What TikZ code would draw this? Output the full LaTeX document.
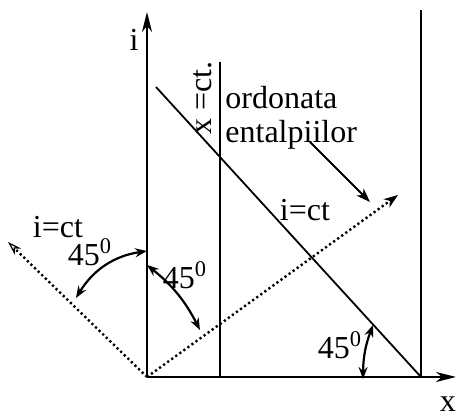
\documentclass[tikz,border=0pt]{standalone}
\usepackage{fontspec}
\setmainfont{Liberation Serif}
\usetikzlibrary{arrows.meta}

\begin{document}
\begin{tikzpicture}[x=0.5pt,y=0.5pt,
  axis/.style={line width=1.2pt},
  isoline/.style={line width=0.9pt},
  dotline/.style={line width=1.2pt, dash pattern=on 1.1pt off 1.4pt},
  angarrow/.style={line width=1.1pt, {Stealth[length=6pt,width=4.5pt,inset=2pt]}-{Stealth[length=6pt,width=4.5pt,inset=2pt]}},
  lbl/.style={font=\fontsize{16}{19}\selectfont, inner sep=0pt}]
  \useasboundingbox (0,0) rectangle (457,417);
  \coordinate (O) at (147,40);
  \coordinate (itop) at (147,405);
  \coordinate (xend) at (456,40);
  \coordinate (xctTop) at (220,355);
  \coordinate (xctBot) at (220,40);
  \coordinate (rTop) at (421,407);
  \coordinate (rBot) at (421,40);
  \coordinate (iTop) at (156,330);
  \coordinate (dR) at (398,222);
  \coordinate (dL) at (8,175);
  \draw[axis, -{Stealth[length=10pt,width=5pt,inset=3pt]}] (O) -- (itop);
  \draw[axis, -{Stealth[length=10pt,width=5pt,inset=3pt]}] (O) -- (xend);
  \draw[axis] (xctBot) -- (xctTop);
  \draw[axis] (rBot) -- (rTop);
  \draw[isoline] (iTop) -- (rBot);
  \draw[dotline, -{Stealth[length=7pt,width=5pt,inset=2pt]}] (O) -- (dR);
  \draw[dotline, -{Stealth[open,length=7pt,width=4.5pt,line width=0.6pt]}] (O) -- (dL);
  \coordinate (a1) at (147,166);
  \coordinate (b1) at (76,119);
  \coordinate (a2) at (147,152);
  \coordinate (b2) at (200,87);
  \coordinate (a3) at (363,38);
  \coordinate (b3) at (373,92);
  \draw[angarrow] (a1) to[bend right=25] (b1);
  \draw[angarrow] (a2) to[bend left=12] (b2);
  \draw[angarrow] (a3) to[bend left=10] (b3);
  \node[lbl] (iLbl) at (134,377) {i};
  \node[lbl] (xLbl) at (448,13) {x};
  \node[lbl] (ictL) at (58,190) {i=ct};
  \node[lbl] (ictR) at (305,207) {i=ct};
  \node[lbl] (angL) at (90,165) {45\textsuperscript{0}};
  \node[lbl] (angM) at (185,142) {45\textsuperscript{0}};
  \node[lbl] (angR) at (340,72) {45\textsuperscript{0}};
  \node[lbl, rotate=90] (xct) at (203,319) {x =ct.};
  \node[lbl, anchor=west] (ord) at (225,319) {ordonata};
  \node[lbl, anchor=west] (ent) at (225,282) {entalpiilor};
  \coordinate (pA) at (310,275);
  \coordinate (pB) at (370,215);
  \draw[isoline, -{Stealth[length=7pt,width=5pt,inset=2pt]}] (pA) -- (pB);
\end{tikzpicture}
\end{document}
